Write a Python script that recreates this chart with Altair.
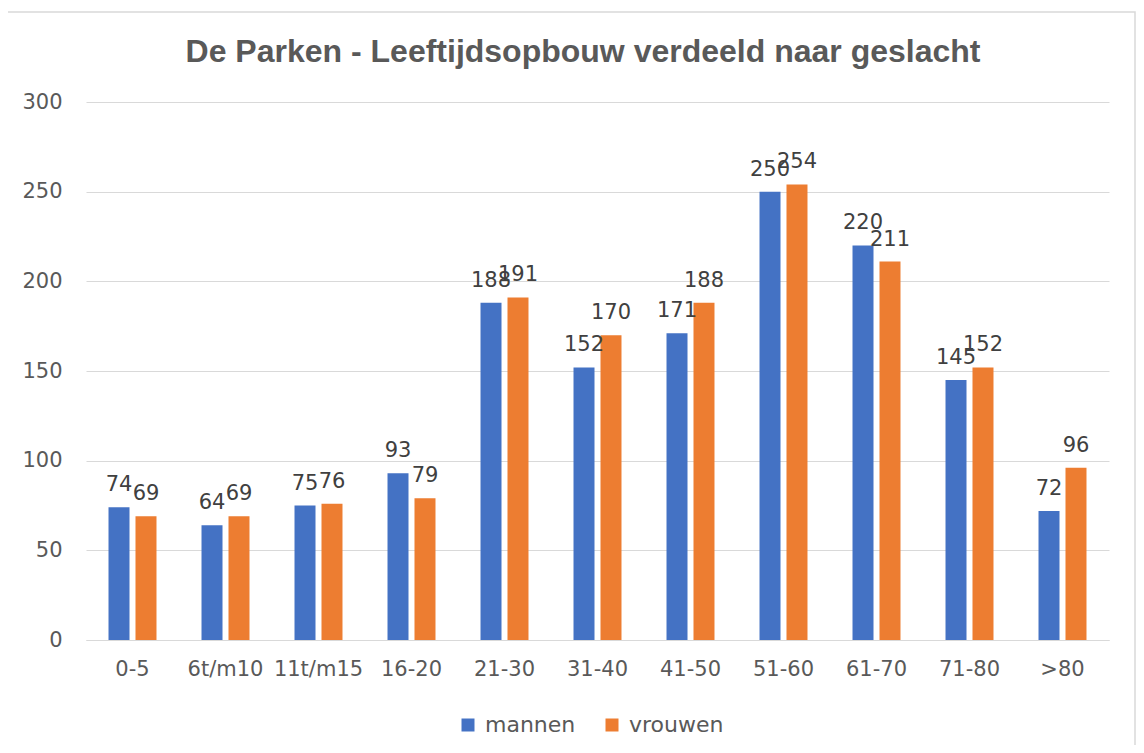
import altair as alt
import pandas as pd

categories = ["0-5", "6t/m10", "11t/m15", "16-20", "21-30", "31-40",
              "41-50", "51-60", "61-70", "71-80", ">80"]
mannen = [74, 64, 75, 93, 188, 152, 171, 250, 220, 145, 72]
vrouwen = [69, 69, 76, 79, 191, 170, 188, 254, 211, 152, 96]
series = ["mannen", "vrouwen"]
colors = ["#4472C4", "#ED7D31"]
title_text = "De Parken - Leeftijdsopbouw verdeeld naar geslacht"

rows = []
for i, c in enumerate(categories):
    rows.append({"cat": c, "geslacht": "mannen", "value": mannen[i]})
    rows.append({"cat": c, "geslacht": "vrouwen", "value": vrouwen[i]})
df = pd.DataFrame(rows)

FONT = "DejaVu Sans"

x = alt.X("cat:N", sort=categories, title=None,
          scale=alt.Scale(paddingInner=0.484, paddingOuter=0.242),
          axis=alt.Axis(labelAngle=0, labelFont=FONT, labelFontSize=21,
                        labelColor="#595959", ticks=False, domainColor="#D9D9D9",
                        labelPadding=18, grid=False))
xoff = alt.XOffset("geslacht:N", sort=series,
                   scale=alt.Scale(paddingInner=0.222, paddingOuter=0))
y = alt.Y("value:Q", title=None,
          scale=alt.Scale(domain=[0, 300], nice=False),
          axis=alt.Axis(values=[0, 50, 100, 150, 200, 250, 300], labelFont=FONT,
                        labelFontSize=21, labelColor="#595959", domain=False,
                        ticks=False, labelPadding=24, gridColor="#D9D9D9",
                        gridWidth=1))
color = alt.Color("geslacht:N", sort=series,
                  scale=alt.Scale(domain=series, range=colors),
                  legend=alt.Legend(title=None, orient="none", legendX=371,
                                    legendY=612, direction="horizontal",
                                    symbolType="square", symbolSize=169,
                                    symbolStrokeWidth=0, labelFont=FONT,
                                    labelFontSize=22, labelColor="#595959",
                                    labelOffset=6, columnPadding=25))

base = alt.Chart(df)
bars = base.mark_bar().encode(x=x, xOffset=xoff, y=y, color=color)
labels = base.mark_text(baseline="bottom", dy=-12, font=FONT, fontSize=21,
                        color="#404040").encode(
    x=x, xOffset=xoff, y=y, text="value:Q")

one = pd.DataFrame({"t": [title_text]})
frame = alt.Chart(one).mark_rect(
    fill=None, stroke="#D9D9D9", strokeWidth=1.5).encode(
    x=alt.value(-79), x2=alt.value(1049), y=alt.value(-90), y2=alt.value(700))
title = alt.Chart(one).mark_text(
    font="Liberation Sans", fontSize=32, fontWeight="bold", color="#595959",
    align="center", baseline="alphabetic").encode(
    x=alt.value(497), y=alt.value(-40), text="t:N")

chart = alt.layer(frame, bars, labels, title).properties(
    width=1023, height=538,
    autosize=alt.AutoSizeParams(type="none"),
    padding={"left": 78, "top": 94, "right": 27, "bottom": 105},
).configure_view(stroke=None)

chart.save("out.html", embed_options={"renderer": "svg", "actions": False})
